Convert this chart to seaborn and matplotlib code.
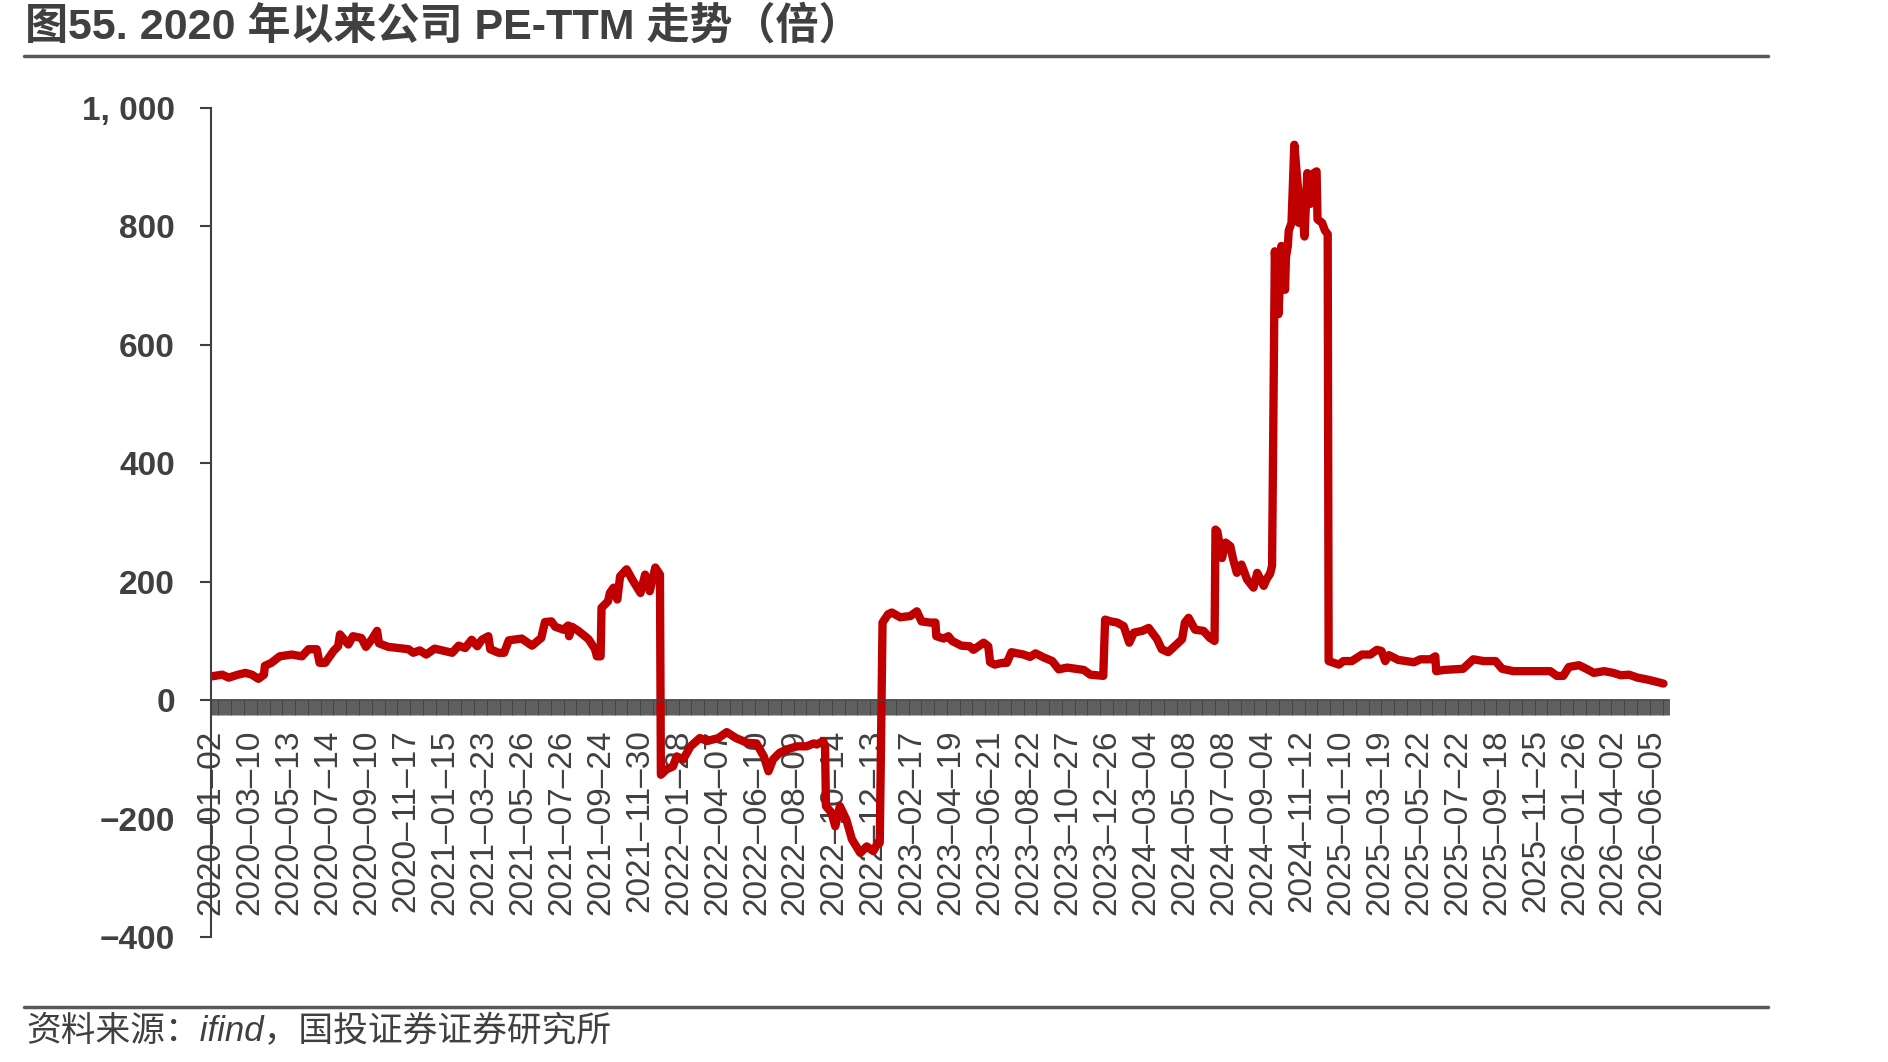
import numpy as np
import pandas as pd
import matplotlib
matplotlib.use("Agg")
import matplotlib.pyplot as plt
from matplotlib.lines import Line2D
from matplotlib.ticker import FuncFormatter
import seaborn as sns

# ---- data (trading-day number since 2020-01-02, PE-TTM) ----
day_no = [0, 12, 19, 29, 37, 44, 51, 57, 58, 65, 74, 87, 98, 105, 114, 117, 123, 132, 137, 139,
          148, 153, 162, 167, 173, 179, 181, 191, 202, 213, 218, 225, 232, 241, 252, 260, 267, 274,
          281, 287, 292, 299, 301, 310, 316, 321, 335, 346, 356, 360, 367, 371, 380, 385, 386, 389,
          396, 407, 414, 416, 420, 421, 428, 430, 434, 438, 441, 448, 454, 463, 468, 473, 479, 484,
          485, 491, 498, 502, 509, 517, 527, 535, 547, 556, 566, 578, 588, 596, 601, 606, 613, 621,
          632, 642, 650, 653, 660, 662, 663, 669, 673, 678, 685, 691, 700, 707, 714, 719, 721, 724,
          730, 734, 743, 754, 761, 766, 775, 781, 782, 790, 795, 799, 809, 818, 822, 833, 838, 840,
          845, 853, 858, 863, 876, 883, 889, 898, 907, 914, 923, 941, 948, 962, 964, 970, 977, 984,
          990, 995, 1004, 1011, 1020, 1025, 1032, 1041, 1047, 1050, 1054, 1061, 1070, 1077, 1082,
          1083, 1085, 1090, 1094, 1099, 1102, 1106, 1111, 1117, 1124, 1128, 1135, 1138, 1142, 1144,
          1147, 1151, 1154, 1158, 1159, 1161, 1162, 1165, 1168, 1172, 1173, 1175, 1179, 1182, 1185,
          1189, 1192, 1193, 1198, 1201, 1204, 1205, 1216, 1221, 1230, 1241, 1250, 1257, 1262, 1266,
          1270, 1280, 1297, 1304, 1315, 1320, 1321, 1329, 1340, 1350, 1361, 1372, 1385, 1392, 1404,
          1419, 1433, 1444, 1451, 1458, 1464, 1475, 1484, 1491, 1502, 1512, 1520, 1529, 1538, 1548,
          1556, 1566]
pe = [40, 43, 38, 43, 46, 43, 36, 43, 58, 63, 74, 77, 74, 86, 86, 63, 63, 83, 91, 111,
      94, 108, 105, 90, 102, 117, 96, 90, 88, 86, 80, 84, 77, 87, 83, 80, 92, 88,
      102, 91, 102, 108, 86, 80, 80, 101, 104, 92, 105, 132, 133, 124, 119, 126, 108, 124,
      117, 103, 86, 74, 74, 156, 167, 181, 190, 170, 209, 221, 204, 181, 212, 184, 224, 212,
      -126, -117, -112, -95, -100, -78, -64, -69, -64, -54, -64, -72, -73, -95, -120, -100, -89, -83,
      -78, -78, -73, -75, -69, -78, -179, -190, -213, -179, -202, -235, -258, -247, -255, -241, -241, 131,
      145, 148, 140, 142, 150, 133, 131, 131, 108, 104, 108, 100, 92, 91, 85, 97, 91, 64,
      60, 63, 63, 81, 77, 73, 79, 72, 66, 52, 55, 51, 43, 41, 136, 133, 131, 125,
      97, 114, 117, 122, 103, 86, 81, 94, 103, 131, 139, 119, 117, 105, 100,
      288, 285, 240, 266, 260, 238, 215, 229, 204, 190, 215, 193, 204, 214, 227,
      758, 652, 767, 693, 748, 767, 793, 806, 938, 864, 806, 857, 783, 890, 838,
      890, 893, 812, 806, 793, 787, 66, 60, 66, 66, 77, 77, 85, 83, 66,
      76, 68, 64, 69, 69, 74, 49, 51, 52, 53, 69, 66, 66, 53, 49,
      49, 49, 49, 41, 41, 56, 59, 52, 46, 49, 46, 42, 43, 38, 35,
      32, 28]

tick_labels = ["2020-01-02", "2020-03-10", "2020-05-13", "2020-07-14", "2020-09-10", "2020-11-17",
               "2021-01-15", "2021-03-23", "2021-05-26", "2021-07-26", "2021-09-24", "2021-11-30",
               "2022-01-28", "2022-04-07", "2022-06-10", "2022-08-09", "2022-10-14", "2022-12-13",
               "2023-02-17", "2023-04-19", "2023-06-21", "2023-08-22", "2023-10-27", "2023-12-26",
               "2024-03-04", "2024-05-08", "2024-07-08", "2024-09-04", "2024-11-12", "2025-01-10",
               "2025-03-19", "2025-05-22", "2025-07-22", "2025-09-18", "2025-11-25", "2026-01-26",
               "2026-04-02", "2026-06-05"]
label_step = 42      # trading days between labelled dates
n_days = 1572        # trading days on the axis

title = "图55. 2020 年以来公司 PE-TTM 走势（倍）"
source = "资料来源：ifind，国投证券证券研究所"

df = pd.DataFrame({"day": day_no, "pe": pe})

sns.set_theme(style="white")
plt.rcParams["font.family"] = ["Liberation Sans", "Noto Sans CJK SC", "DejaVu Sans"]
grey = "#404040"

fig = plt.figure(figsize=(18.88, 10.62), dpi=100)
ax = fig.add_axes([0.1118, 0.1177, 0.7722, 0.7806])

sns.lineplot(data=df, x="day", y="pe", ax=ax, color="#C00000", linewidth=6, sort=False)

ax.set_xlim(0, n_days)
ax.set_ylim(-400, 1000)
ax.set_yticks(range(-400, 1001, 200))
ax.yaxis.set_major_formatter(FuncFormatter(
    lambda v, p: ("−" if v < 0 else "") + f"{abs(v):,.0f}".replace(",", ", ")))
ax.set_xticks(range(0, label_step * len(tick_labels), label_step))
ax.set_xticklabels([s.replace("-", "–") for s in tick_labels])
ax.set_xticks(np.arange(0, n_days + 1), minor=True)
ax.set_xlabel("")
ax.set_ylabel("")

for s in ["top", "right"]:
    ax.spines[s].set_visible(False)
ax.spines["bottom"].set_position(("data", 0))
ax.spines["bottom"].set_color(grey)
ax.spines["left"].set_color(grey)
ax.spines["left"].set_linewidth(1.5)

ax.tick_params(axis="x", which="both", direction="out", length=11, width=0.6, color=grey,
               bottom=True)
ax.tick_params(axis="x", which="major", labelsize=24, labelcolor=grey, pad=10,
               labelrotation=90)
ax.tick_params(axis="y", direction="out", length=8, width=1.5, color=grey, left=True,
               labelsize=24, labelcolor=grey, pad=18)
for t in ax.get_yticklabels():
    t.set_fontweight("bold")

# title, rules and source note
fig.text(0.013, 0.975, title, fontsize=31, fontweight="bold", color=grey, va="center")
fig.add_artist(Line2D([0.0127, 0.9364], [0.947, 0.947], transform=fig.transFigure,
                      color="#595959", lw=2.5))
fig.add_artist(Line2D([0.0127, 0.9364], [0.052, 0.052], transform=fig.transFigure,
                      color="#595959", lw=2.5))
fig.text(0.0138, 0.029, source, fontsize=25, color=grey, va="center", style="italic")

fig.savefig("out.png", dpi=100)
